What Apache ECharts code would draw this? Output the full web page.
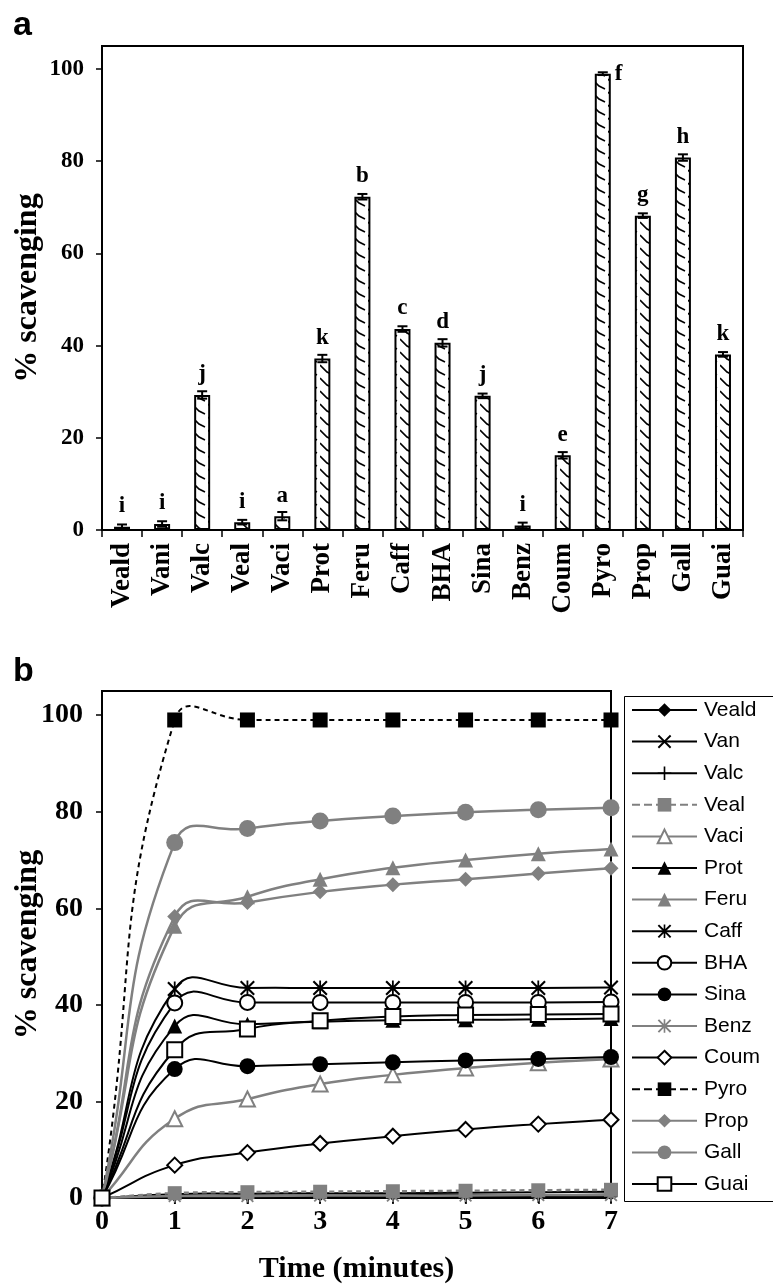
<!DOCTYPE html>
<html>
<head>
<meta charset="utf-8">
<script src="https://cdn.jsdelivr.net/npm/echarts@6/dist/echarts.min.js"></script>
<style>
html,body{margin:0;padding:0;background:#fff;}
#chart{width:773px;height:1286px;}
</style>
</head>
<body>
<div id="chart"></div>
<script>
// ---------- Panel a data ----------
const barCats = ['Veald','Vani','Valc','Veal','Vaci','Prot','Feru','Caff','BHA','Sina','Benz','Coum','Pyro','Prop','Gall','Guai'];
const barVals = [0.7, 1.3, 29.3, 1.7, 3.0, 37.2, 72.3, 43.6, 40.6, 29.1, 1.0, 16.2, 99.0, 68.2, 80.8, 38.1];
const barErr  = [0.5, 0.6, 0.8, 0.5, 0.9, 0.8, 0.6, 0.6, 0.8, 0.5, 0.6, 0.7, 0.3, 0.5, 0.7, 0.5];
const barLetters = ['i','i','j','i','a','k','b','c','d','j','i','e','f','g','h','k'];
const yTicks = [0, 20, 40, 60, 80, 100];

// ---------- Panel b data ----------
const times = [0, 1, 2, 3, 4, 5, 6, 7];
const veald = [0, 0.4, 0.5, 0.5, 0.6, 0.6, 0.6, 0.7];
const van   = [0, 0.8, 0.9, 1.0, 1.0, 1.1, 1.2, 1.3];
const valc  = [0, 0.1, 0.1, 0.2, 0.2, 0.2, 0.3, 0.3];
const veal  = [0, 1.0, 1.2, 1.3, 1.4, 1.5, 1.6, 1.7];
const vaci  = [0, 16.4, 20.5, 23.6, 25.5, 26.9, 28.0, 28.8];
const prot  = [0, 35.6, 36.0, 36.5, 36.8, 36.9, 37.0, 37.2];
const feru  = [0, 56.3, 62.4, 66.0, 68.4, 70.0, 71.3, 72.3];
const caff  = [0, 43.3, 43.5, 43.5, 43.5, 43.5, 43.5, 43.6];
const bha   = [0, 40.4, 40.5, 40.5, 40.5, 40.5, 40.5, 40.6];
const sina  = [0, 26.7, 27.3, 27.7, 28.1, 28.5, 28.8, 29.2];
const benz  = [0, 0.4, 0.4, 0.5, 0.5, 0.5, 0.6, 0.6];
const coum  = [0, 6.8, 9.4, 11.3, 12.8, 14.2, 15.3, 16.2];
const pyro  = [0, 99.0, 99.0, 99.0, 99.0, 99.0, 99.0, 99.0];
const prop  = [0, 58.3, 61.2, 63.4, 64.9, 66.0, 67.2, 68.3];
const gall  = [0, 73.6, 76.5, 78.1, 79.1, 79.9, 80.4, 80.8];
const guai  = [0, 30.7, 35.0, 36.7, 37.6, 37.9, 38.0, 38.1];
const lineNames = ['Veald','Van','Valc','Veal','Vaci','Prot','Feru','Caff','BHA','Sina','Benz','Coum','Pyro','Prop','Gall','Guai'];
const lineData  = [veald, van, valc, veal, vaci, prot, feru, caff, bha, sina, benz, coum, pyro, prop, gall, guai];

// ---------- styles ----------
const BLACK = '#000000', GRAY = '#808080';
const SERIF = 'Liberation Serif', SANS = 'Liberation Sans';
const X_PATH = 'path://M1,0L5,4L9,0L10,1L6,5L10,9L9,10L5,6L1,10L0,9L4,5L0,1Z';
const PLUS_PATH = 'path://M4.4,0H5.6V4.4H10V5.6H5.6V10H4.4V5.6H0V4.4H4.4Z';
const AST_PATH = 'path://M1,0L5,4L9,0L10,1L6,5L10,9L9,10L5,6L1,10L0,9L4,5L0,1Z M4.4,0H5.6V10H4.4Z';
const lineStyles = [
  {c: BLACK, sym: 'diamond', size: 12},
  {c: BLACK, sym: X_PATH, size: 12},
  {c: BLACK, sym: PLUS_PATH, size: 13},
  {c: GRAY, sym: 'rect', size: 14, dash: true},
  {c: GRAY, sym: 'emptyTriangle', size: 15},
  {c: BLACK, sym: 'triangle', size: 15},
  {c: GRAY, sym: 'triangle', size: 15},
  {c: BLACK, sym: AST_PATH, size: 15},
  {c: BLACK, sym: 'emptyCircle', size: 15},
  {c: BLACK, sym: 'circle', size: 16},
  {c: GRAY, sym: AST_PATH, size: 13},
  {c: BLACK, sym: 'emptyDiamond', size: 15},
  {c: BLACK, sym: 'rect', size: 15, dash: true},
  {c: GRAY, sym: 'diamond', size: 15},
  {c: GRAY, sym: 'circle', size: 17},
  {c: BLACK, sym: 'emptyRect', size: 15}
];
const SMOOTH = 0.5;

function makePattern() {
  const c = document.createElement('canvas');
  c.width = 16; c.height = 13;
  const g = c.getContext('2d');
  g.fillStyle = '#fff'; g.fillRect(0, 0, 16, 13);
  g.strokeStyle = '#000'; g.lineWidth = 1.6;
  g.beginPath();
  g.moveTo(0, 1); g.lineTo(7, 8); g.lineTo(13, 11);
  g.stroke();
  return c;
}
const pattern = {image: makePattern(), repeat: 'repeat'};

function dist(a, b) { return Math.sqrt((a[0]-b[0])*(a[0]-b[0]) + (a[1]-b[1])*(a[1]-b[1])); }
function ctrlAfter(prev, cur, next) {
  const d0 = dist(prev, cur), d1 = dist(cur, next), s = d0 + d1;
  if (s === 0) return cur.slice();
  const r = SMOOTH * d1 / s;
  return [cur[0] + (next[0]-prev[0]) * r, cur[1] + (next[1]-prev[1]) * r];
}
function ctrlBefore(prev, cur, next) {
  const d0 = dist(prev, cur), d1 = dist(cur, next), s = d0 + d1;
  if (s === 0) return cur.slice();
  const r = SMOOTH * d0 / s;
  return [cur[0] - (next[0]-prev[0]) * r, cur[1] - (next[1]-prev[1]) * r];
}

const chart = echarts.init(document.getElementById('chart'), null, {renderer: 'canvas'});

const barData = barVals.map((v, i) => {
  if (barLetters[i] === 'f') {
    return {value: v, label: {position: ['100%', -11], offset: [4, 0], align: 'left', verticalAlign: 'top'}};
  }
  return v;
});
const errData = barVals.map((v, i) => [i, v, barErr[i]]);

const axisLabelBold = (size) => ({color: BLACK, fontFamily: SERIF, fontWeight: 'bold', fontSize: size});

const series = [
  {
    type: 'bar', xAxisIndex: 0, yAxisIndex: 0,
    data: barData, barWidth: 16,
    itemStyle: {color: pattern, borderColor: BLACK, borderWidth: 2},
    label: {
      show: true, position: 'top', distance: 9,
      formatter: p => barLetters[p.dataIndex],
      color: BLACK, fontFamily: SERIF, fontWeight: 'bold', fontSize: 23
    },
    z: 2
  },
  {
    type: 'custom', xAxisIndex: 0, yAxisIndex: 0,
    data: errData, silent: true,
    renderItem: function (params, api) {
      const i = api.value(0), v = api.value(1), e = api.value(2);
      const hi = api.coord([i, v + e]);
      const lo = api.coord([i, v - e]);
      const w = 5;
      return {
        type: 'group',
        children: [
          {type: 'line', shape: {x1: hi[0], y1: hi[1], x2: lo[0], y2: lo[1]}, style: {stroke: BLACK, lineWidth: 2}},
          {type: 'line', shape: {x1: hi[0] - w, y1: hi[1], x2: hi[0] + w, y2: hi[1]}, style: {stroke: BLACK, lineWidth: 2}},
          {type: 'line', shape: {x1: lo[0] - w, y1: lo[1], x2: lo[0] + w, y2: lo[1]}, style: {stroke: BLACK, lineWidth: 2}}
        ]
      };
    },
    z: 3
  }
];

// smooth curves (drawn through the axis scales from the data arrays)
lineNames.forEach((name, k) => {
  const s = lineStyles[k];
  const n = times.length;
  series.push({
    type: 'custom', xAxisIndex: 1, yAxisIndex: 1, silent: true,
    data: times.map((t, i) => [t, lineData[k][i]]),
    z: 2 + k * 2,
    renderItem: function (params, api) {
      const i = params.dataIndexInside;
      if (i >= n - 1) return {type: 'group', children: []};
      const P = j => api.coord([api.value(0, j), api.value(1, j)]);
      const p0 = P(Math.max(i - 1, 0)), p1 = P(i), p2 = P(i + 1), p3 = P(Math.min(i + 2, n - 1));
      const c1 = ctrlAfter(p0, p1, p2), c2 = ctrlBefore(p1, p2, p3);
      return {
        type: 'bezierCurve',
        shape: {x1: p1[0], y1: p1[1], x2: p2[0], y2: p2[1], cpx1: c1[0], cpy1: c1[1], cpx2: c2[0], cpy2: c2[1]},
        style: {stroke: s.c, fill: null, lineWidth: s.c === GRAY ? 2.5 : 2, lineDash: s.dash ? [5, 4] : null}
      };
    }
  });
});

// markers + legend entries
lineNames.forEach((name, k) => {
  const s = lineStyles[k];
  series.push({
    type: 'line', name: name, xAxisIndex: 1, yAxisIndex: 1,
    data: times.map((t, i) => [t, lineData[k][i]]),
    symbol: s.sym, symbolSize: s.size, showAllSymbol: true,
    lineStyle: {color: s.c, width: s.c === GRAY ? 2.5 : 2, type: s.dash ? 'dashed' : 'solid', opacity: 0},
    itemStyle: {color: s.c, borderColor: s.c, borderWidth: s.sym.indexOf('empty') === 0 ? 1.6 : 0},
    emphasis: {disabled: true},
    z: 3 + k * 2
  });
});

chart.setOption({
  animation: false,
  backgroundColor: '#fff',
  grid: [
    {left: 102, top: 46, width: 641, height: 484, show: true, borderColor: BLACK, borderWidth: 2, backgroundColor: 'transparent', containLabel: false, outerBoundsMode: 'none'},
    {left: 102, top: 691, width: 509, height: 507, show: true, borderColor: BLACK, borderWidth: 2, backgroundColor: 'transparent', containLabel: false, outerBoundsMode: 'none'}
  ],
  xAxis: [
    {
      type: 'category', gridIndex: 0, data: barCats, boundaryGap: true,
      axisLine: {lineStyle: {color: BLACK, width: 2}},
      axisTick: {show: true, length: 7, lineStyle: {color: BLACK, width: 1.5}},
      axisLabel: Object.assign(axisLabelBold(27), {rotate: 90, interval: 0, margin: 13})
    },
    {
      type: 'value', gridIndex: 1, min: 0, max: 7, interval: 1,
      axisLine: {lineStyle: {color: BLACK, width: 2}},
      axisTick: {show: true, length: 6, lineStyle: {color: BLACK, width: 1.5}},
      splitLine: {show: false},
      axisLabel: Object.assign(axisLabelBold(28), {margin: 10}),
      name: 'Time (minutes)', nameLocation: 'middle', nameGap: 56, nameMoveOverlap: false,
      nameTextStyle: {color: BLACK, fontFamily: SERIF, fontWeight: 'bold', fontSize: 30}
    }
  ],
  yAxis: [
    {
      type: 'value', gridIndex: 0, min: 0, max: 105, interval: 20,
      axisLine: {show: true, lineStyle: {color: BLACK, width: 2}},
      axisTick: {show: true, length: 6, lineStyle: {color: BLACK, width: 1.5}},
      splitLine: {show: false},
      axisLabel: Object.assign(axisLabelBold(23), {margin: 18, showMaxLabel: false,
        formatter: v => (yTicks.indexOf(v) >= 0 ? String(v) : '')}),
      name: '% scavenging', nameLocation: 'middle', nameGap: 58, nameRotate: 90, nameMoveOverlap: false,
      nameTextStyle: {color: BLACK, fontFamily: SERIF, fontWeight: 'bold', fontSize: 32}
    },
    {
      type: 'value', gridIndex: 1, min: 0, max: 105, interval: 20,
      axisLine: {show: true, lineStyle: {color: BLACK, width: 2}},
      axisTick: {show: true, length: 6, lineStyle: {color: BLACK, width: 1.5}},
      splitLine: {show: false},
      axisLabel: Object.assign(axisLabelBold(28), {margin: 19, showMaxLabel: false,
        formatter: v => (yTicks.indexOf(v) >= 0 ? String(v) : '')}),
      name: '% scavenging', nameLocation: 'middle', nameGap: 58, nameRotate: 90, nameMoveOverlap: false,
      nameTextStyle: {color: BLACK, fontFamily: SERIF, fontWeight: 'bold', fontSize: 32}
    }
  ],
  legend: {
    data: lineNames.map(n => ({name: n, lineStyle: {opacity: 1}})),
    orient: 'vertical', left: 631, top: 699, padding: 0,
    itemWidth: 65, itemHeight: 17, itemGap: 9.6,
    selectedMode: false,
    textStyle: {color: BLACK, fontFamily: SANS, fontSize: 21, lineHeight: 22, padding: [0, 0, 0, 2]}
  },
  graphic: [
    {type: 'rect', left: 622, top: 694, shape: {width: 150, height: 505}, style: {fill: 'none', stroke: BLACK, lineWidth: 1}, silent: true},
    {type: 'text', left: 13, top: 9, style: {text: 'a', font: 'bold 34px "Liberation Sans"', fill: BLACK}},
    {type: 'text', left: 13, top: 655, style: {text: 'b', font: 'bold 34px "Liberation Sans"', fill: BLACK}}
  ],
  series: series
});
</script>
</body>
</html>
